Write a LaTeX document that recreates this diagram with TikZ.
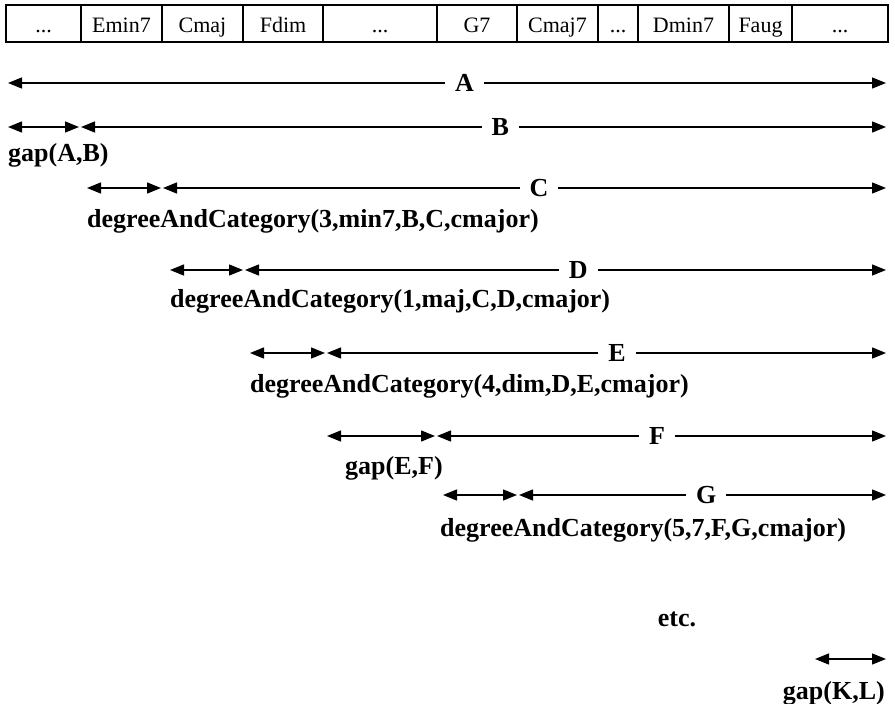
\documentclass[tikz,border=0pt]{standalone}
\usepackage{fontspec}
\setmainfont{Liberation Serif}
\usetikzlibrary{arrows.meta}
\tikzset{
  cell/.style={draw, line width=1.2pt, minimum height=37pt, inner sep=0pt, text height=19pt, text depth=1pt, font=\fontsize{22}{24}\selectfont, anchor=center},
  span/.style={line width=1.4pt, {Triangle[length=14pt,width=11pt]}-{Triangle[length=14pt,width=11pt]}},
  lbl/.style={fill=white, inner xsep=10pt, inner ysep=4pt, font=\bfseries\fontsize{26}{28}\selectfont},
  txt/.style={inner sep=0pt, font=\bfseries\fontsize{26}{28}\selectfont}
}
\begin{document}
\begin{tikzpicture}[x=1pt,y=-1pt]
\useasboundingbox (0,0) rectangle (895,704);
% top row of cells
\foreach \l/\r/\t [count=\i] in {6/81/{...},81/162/Emin7,162/243/Cmaj,243/323/Fdim,323/437/{...},437/517/G7,517/598/Cmaj7,598/638/{...},638/729/Dmin7,729/792/Faug,792/888/{...}}{
  \node[cell, minimum width={(\r-\l)*1pt}] (c\i) at ({(\l+\r)/2},23.5) {\t};
}
% coordinates
\coordinate (a1) at (8,83);   \coordinate (a2) at (886,83);
\coordinate (b0) at (8,127);  \coordinate (b1) at (79,127); \coordinate (b2) at (81,127); \coordinate (b3) at (886,127);
\coordinate (c0) at (87,188); \coordinate (c1) at (161,188); \coordinate (c2) at (163,188); \coordinate (c3) at (886,188);
\coordinate (d0) at (170,270); \coordinate (d1) at (243,270); \coordinate (d2) at (245,270); \coordinate (d3) at (886,270);
\coordinate (e0) at (250,353); \coordinate (e1) at (325,353); \coordinate (e2) at (327,353); \coordinate (e3) at (886,353);
\coordinate (f0) at (327,436); \coordinate (f1) at (435,436); \coordinate (f2) at (437,436); \coordinate (f3) at (886,436);
\coordinate (g0) at (443,495); \coordinate (g1) at (517,495); \coordinate (g2) at (519,495); \coordinate (g3) at (886,495);
\coordinate (k0) at (815,659); \coordinate (k1) at (886,659);
% spans
\draw[span] (a1) -- node[lbl, pos=0.52] (la) {A} (a2);
\draw[span] (b0) -- (b1);
\draw[span] (b2) -- node[lbl, pos=0.521] (lb) {B} (b3);
\draw[span] (c0) -- (c1);
\draw[span] (c2) -- node[lbl, pos=0.52] (lc) {C} (c3);
\draw[span] (d0) -- (d1);
\draw[span] (d2) -- node[lbl, pos=0.52] (ld) {D} (d3);
\draw[span] (e0) -- (e1);
\draw[span] (e2) -- node[lbl, pos=0.519] (le) {E} (e3);
\draw[span] (f0) -- (f1);
\draw[span] (f2) -- node[lbl, pos=0.49] (lf) {F} (f3);
\draw[span] (g0) -- (g1);
\draw[span] (g2) -- node[lbl, pos=0.51] (lg) {G} (g3);
\draw[span] (k0) -- (k1);
% texts
\node[txt, anchor=base west] (tab) at (8,161) {gap(A,B)};
\node[txt, anchor=base west] (tc) at (87,227) {degreeAndCategory(3,min7,B,C,cmajor)};
\node[txt, anchor=base west] (td) at (170,307) {degreeAndCategory(1,maj,C,D,cmajor)};
\node[txt, anchor=base west] (te) at (250,392) {degreeAndCategory(4,dim,D,E,cmajor)};
\node[txt, anchor=base west] (tef) at (345,474) {gap(E,F)};
\node[txt, anchor=base west] (tg) at (440,536) {degreeAndCategory(5,7,F,G,cmajor)};
\node[txt, anchor=base] (etc) at (677,626) {etc.};
\node[txt, anchor=base east] (tkl) at (885,699) {gap(K,L)};
\end{tikzpicture}
\end{document}
